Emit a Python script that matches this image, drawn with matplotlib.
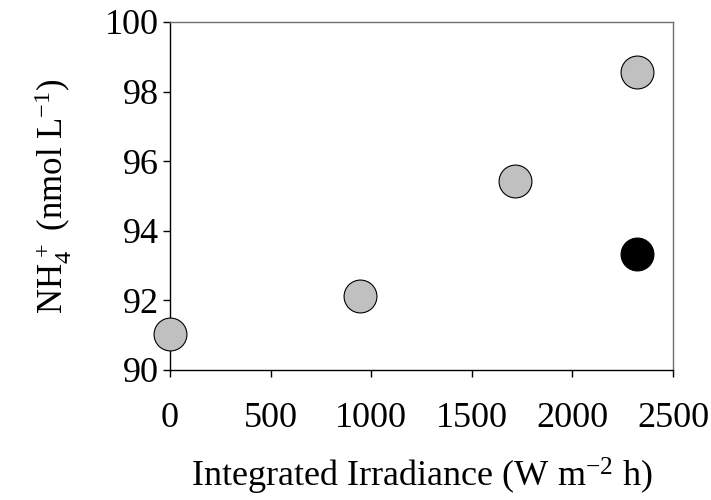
import matplotlib
matplotlib.use("Agg")
import matplotlib.pyplot as plt

plt.rcParams['font.family'] = ['Liberation Serif', 'DejaVu Serif']
plt.rcParams['mathtext.fontset'] = 'custom'
plt.rcParams['mathtext.rm'] = 'Liberation Serif'
plt.rcParams['mathtext.it'] = 'Liberation Serif:italic'
plt.rcParams['mathtext.default'] = 'regular'

gray_x = [0, 943, 1715, 2321]
gray_y = [91.03, 92.13, 95.44, 98.55]
black_x = [2321]
black_y = [93.33]
xticks = [0, 500, 1000, 1500, 2000, 2500]
yticks = [90, 92, 94, 96, 98, 100]

fig = plt.figure(figsize=(7.11, 5.0), dpi=100)
ax = fig.add_axes([0.239, 0.26, 0.7076, 0.696])
ax.scatter(gray_x, gray_y, s=560, facecolor='#c0c0c0', edgecolor='black', linewidth=0.8, zorder=3, clip_on=False)
ax.scatter(black_x, black_y, s=560, facecolor='black', edgecolor='black', linewidth=0.8, zorder=3, clip_on=False)

ax.set_xlim(0, 2500)
ax.set_ylim(90, 100)
ax.set_xticks(xticks)
ax.set_yticks(yticks)
ax.tick_params(axis='both', labelsize=26, direction='out', length=5, width=1)
ax.tick_params(axis='x', pad=18)
ax.tick_params(axis='y', pad=3)
for s in ['left', 'bottom']:
    ax.spines[s].set_color('black')
    ax.spines[s].set_linewidth(1)
for s in ['top', 'right']:
    ax.spines[s].set_color('#707070')
    ax.spines[s].set_linewidth(1)

ax.set_xlabel('Integrated Irradiance (W m$^{-2}$ h)', fontsize=26, labelpad=15)
ax.set_ylabel('NH$_4^{\\,+}$ (nmol L$^{-1}$)', fontsize=25, labelpad=22)

fig.savefig('out.png', dpi=100)
